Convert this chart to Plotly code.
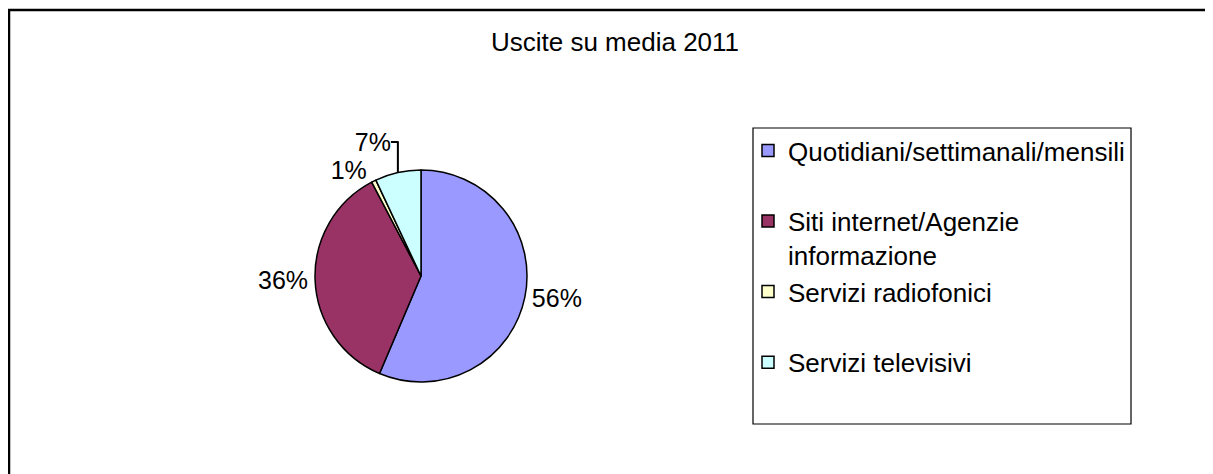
import plotly.graph_objects as go

# Data (share of media exits, 2011)
categories = [
    "Quotidiani/settimanali/mensili",
    "Siti internet/Agenzie<br>informazione",
    "Servizi radiofonici",
    "Servizi televisivi",
]
values = [56.4, 35.9, 0.7, 7.0]
colors = ["#9999FF", "#993366", "#FFFFCC", "#CCFFFF"]
title_text = "Uscite su media 2011"

W, H = 1213, 474
OFF = 8  # page body margin
FONT = "Liberation Sans, Arial, Helvetica, sans-serif"


def px(x):
    return (x - OFF) / W


def py(y):
    return 1 - (y - OFF) / H


# legend labels with spacing lines (Excel-like spread inside the legend box)
legend_labels = [
    categories[0] + "<br> ",
    categories[1],
    categories[2] + "<br> ",
    categories[3],
]

fig = go.Figure()
fig.add_trace(go.Pie(
    labels=legend_labels,
    values=values,
    sort=False,
    direction="clockwise",
    rotation=0,
    marker=dict(colors=colors, line=dict(color="black", width=1.5)),
    textposition="outside",
    texttemplate="%{percent:.0%}",
    outsidetextfont=dict(family=FONT, size=25, color="black"),
    domain=dict(x=[px(421 - 130), px(421 + 130)],
                y=[py(382), py(170)]),
    showlegend=True,
    hoverinfo="skip",
))

fig.update_layout(
    width=W, height=H,
    margin=dict(l=0, r=0, t=0, b=0),
    paper_bgcolor="white",
    plot_bgcolor="white",
    font=dict(family=FONT, size=26, color="black"),
    title=dict(text=title_text, x=px(615), xanchor="center",
               y=py(42), yanchor="middle",
               font=dict(family=FONT, size=26, color="black")),
    legend=dict(x=px(748), xanchor="left", y=py(127), yanchor="top",
                bgcolor="rgba(0,0,0,0)", borderwidth=0,
                valign="top", font=dict(family=FONT, size=26, color="black"),
                itemclick=False, itemdoubleclick=False),
    shapes=[
        # outer chart frame (continues past the right and bottom edges)
        dict(type="rect", xref="paper", yref="paper",
             x0=px(9), x1=1.05, y0=-0.1, y1=py(10),
             line=dict(color="black", width=2.5), layer="below"),
        # legend frame
        dict(type="rect", xref="paper", yref="paper",
             x0=px(753), x1=px(1131), y0=py(424), y1=py(128),
             line=dict(color="black", width=1.2), layer="below"),
    ],
)

fig.write_html("out.html")
